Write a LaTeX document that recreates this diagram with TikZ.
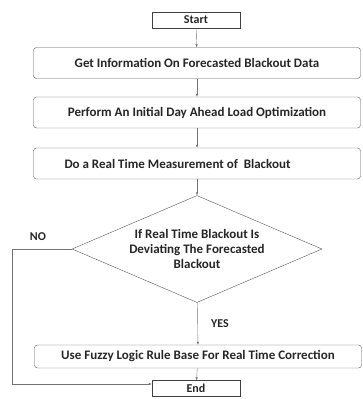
\documentclass[tikz,border=0pt]{standalone}
\usepackage{fontspec}
\setmainfont{Carlito}
\usetikzlibrary{shapes.geometric}
\usetikzlibrary{arrows.meta}
\tikzset{
    stepbox/.style={draw=black!65, rounded corners=3pt, minimum width=327pt, minimum height=31pt, inner sep=1pt, font=\bfseries\fontsize{13}{15}\selectfont, text=black!85},
    endbox/.style={draw=black!75, minimum width=88pt, minimum height=16pt, inner sep=0.5pt, font=\bfseries\fontsize{12}{13}\selectfont, text=black!85},
    flow/.style={draw=black!55, -{Latex[length=3pt,width=2.5pt]}},
    lbl/.style={font=\bfseries\fontsize{12}{13}\selectfont, text=black!85}}

\begin{document}
\begin{tikzpicture}[x=1pt, y=-1pt]

            \useasboundingbox (0,0) rectangle (362,399);

            \node[endbox] (start) at (196,20) {Start};
            \node[stepbox] (info) at (197,63) {Get Information On Forecasted Blackout Data};
            \node[stepbox] (optim) at (197,112.5) {Perform An Initial Day Ahead Load Optimization};
            \node[stepbox] (measure) at (197,163.5) {\hspace*{-39pt}Do a Real Time Measurement of~ Blackout};
            \node[shape=diamond, draw=black!65, minimum width=250pt, minimum height=107pt, inner sep=0pt] (check) at (197,249) {};
            \node[align=center, font=\bfseries\fontsize{13}{15}\selectfont, text=black!85, inner sep=0pt] (checktext) at (check.center) {If Real Time Blackout Is\\Deviating The Forecasted\\Blackout};
            \node[stepbox, minimum height=23pt] (fuzzy) at (198,356.5) {Use Fuzzy Logic Rule Base For Real Time Correction};
            \node[endbox] (end) at (196,388.5) {End};
            \coordinate (noturn) at (12,249);
            \coordinate (nodown) at (12,384);

            \draw[flow] (start) -- (info);
            \draw[flow] (info) -- (optim);
            \draw[flow] (optim) -- (measure);
            \draw[flow] (measure) -- (check);
            \draw[flow] (check) -- (fuzzy) node[midway, right, xshift=10pt, lbl] {YES};
            \draw[flow] (fuzzy) -- (end);
            \draw[flow] (check.west) -- (noturn) -- (nodown) -- (end.west |- nodown);
            \node[lbl] (no) at (38,237) {NO};

        \end{tikzpicture}
\end{document}
